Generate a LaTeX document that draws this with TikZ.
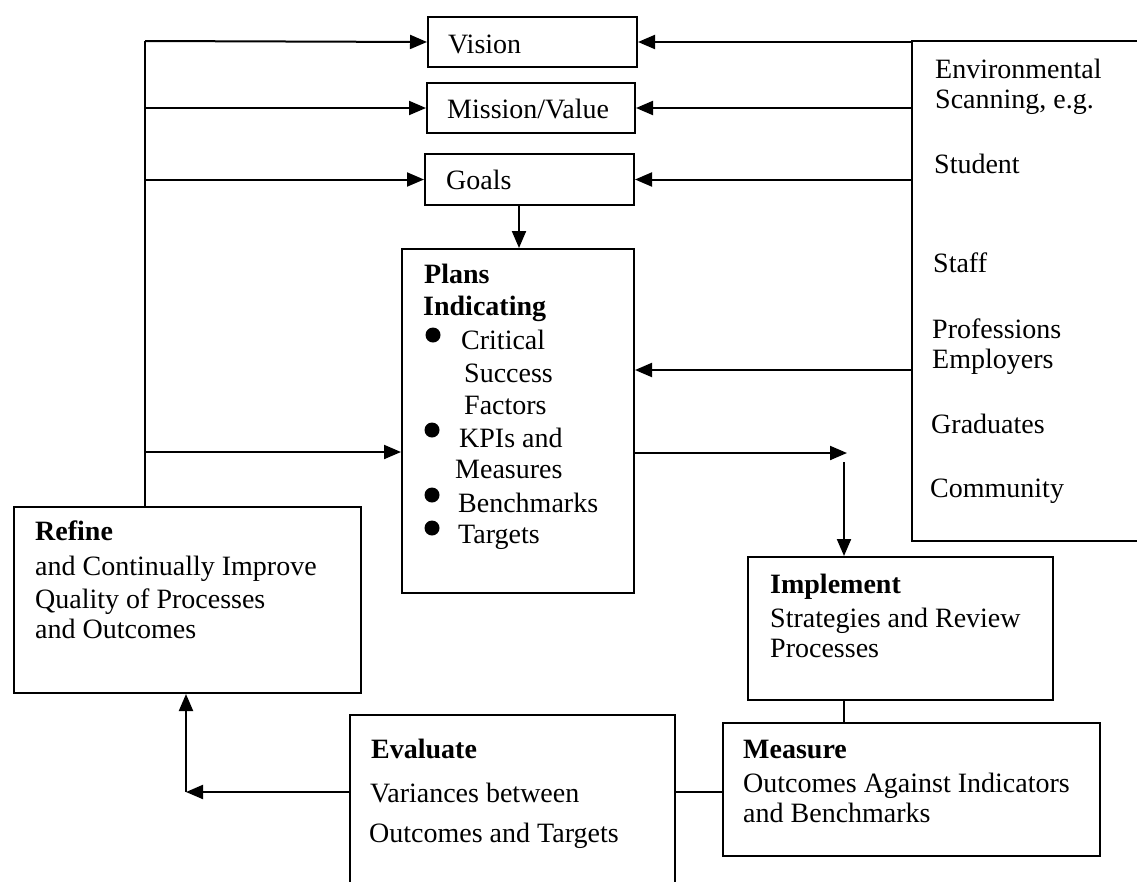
\documentclass[tikz,border=0pt]{standalone}
\usepackage{fontspec}
\setmainfont{Liberation Serif}
\usetikzlibrary{arrows.meta,calc}
\begin{document}
\begin{tikzpicture}[x=1pt,y=-1pt,
  box/.style={draw,line width=2pt,inner sep=0pt,anchor=north west},
  txt/.style={anchor=base west,inner sep=0pt,font=\fontsize{28}{30}\selectfont},
  btxt/.style={anchor=base west,inner sep=0pt,font=\fontsize{28}{30}\selectfont\bfseries},
  conn/.style={line width=2pt},
  arr/.style={conn,-{Triangle[length=17pt,width=14pt]}},
  dot/.style={circle,fill,inner sep=0pt,minimum size=15pt}]
\useasboundingbox (0,0) rectangle (1137,881);
\clip (0,0) rectangle (1137,881);
% boxes
\node[box,minimum width=209pt,minimum height=50pt] (vision) at (427,16) {};
\node[box,minimum width=208pt,minimum height=50pt] (mission) at (426,82) {};
\node[box,minimum width=209pt,minimum height=51pt] (goals) at (424,153) {};
\node[box,minimum width=232pt,minimum height=344pt] (plans) at (401,248) {};
\node[box,minimum width=260pt,minimum height=500pt] (env) at (911,40) {};
\node[box,minimum width=305pt,minimum height=143pt] (impl) at (747,556) {};
\node[box,minimum width=377pt,minimum height=133pt] (meas) at (722,722) {};
\node[box,minimum width=347pt,minimum height=186pt] (refine) at (13,506) {};
\node[box,minimum width=325pt,minimum height=200pt] (eval) at (349,714) {};
% texts
\node[txt] (tvision) at (448,53) {Vision};
\node[txt] (tmission) at (447,118) {Mission/Value};
\node[txt] (tgoals) at (446,189) {Goals};
\node[btxt] (tplans1) at (424,283) {Plans};
\node[btxt] (tplans2) at (423,315) {Indicating};
\node[dot] (b1) at (433,335) {};
\node[txt] (tcrit) at (461,349) {Critical};
\node[txt] (tsucc) at (464,382) {Success};
\node[txt] (tfact) at (464,414) {Factors};
\node[dot] (b2) at (432,430) {};
\node[txt] (tkpi) at (459,447) {KPIs and};
\node[txt] (tmeas) at (455,478) {Measures};
\node[dot] (b3) at (432,495) {};
\node[txt] (tbench) at (458,512) {Benchmarks};
\node[dot] (b4) at (432,528) {};
\node[txt] (ttarg) at (458,543) {Targets};
\node[txt] (te1) at (935,78) {Environmental};
\node[txt] (te2) at (935,108) {Scanning, e.g.};
\node[txt] (te3) at (934,173) {Student};
\node[txt] (te4) at (933,272) {Staff};
\node[txt] (te5) at (932,338) {Professions};
\node[txt] (te6) at (932,368) {Employers};
\node[txt] (te7) at (931,433) {Graduates};
\node[txt] (te8) at (930,497) {Community};
\node[btxt] (ti1) at (770,593) {Implement};
\node[txt] (ti2) at (770,627) {Strategies and Review};
\node[txt] (ti3) at (770,657) {Processes};
\node[btxt] (tm1) at (743,758) {Measure};
\node[txt] (tm2) at (743,792) {Outcomes Against Indicators};
\node[txt] (tm3) at (743,822) {and Benchmarks};
\node[btxt] (tr1) at (35,540) {Refine};
\node[txt] (tr2) at (35,575) {and Continually Improve};
\node[txt] (tr3) at (35,608) {Quality of Processes};
\node[txt] (tr4) at (35,638) {and Outcomes};
\node[btxt] (tv1) at (371,758) {Evaluate};
\node[txt] (tv2) at (370,802) {Variances between};
\node[txt] (tv3) at (369,842) {Outcomes and Targets};
% coordinates
\coordinate (bus) at (145,41);
\coordinate (busp) at (145,452);
\coordinate (ein) at (911,370);
\coordinate (gdown) at (519,204);
\coordinate (corner) at (847,453);
\coordinate (vdown) at (844,462);
\coordinate (mlink) at (700,792);
\coordinate (rjoin) at (186,792);
% connectors left bus
\draw[conn] (bus) -- (bus |- refine.north);
\draw[arr] (bus) -- (vision.west);
\draw[arr] (bus |- mission.west) -- (mission.west);
\draw[arr] (bus |- goals.west) -- (goals.west);
\draw[arr] (busp) -- (busp -| plans.west);
% from environment
\draw[arr] (env.west |- vision.east) -- (vision.east);
\draw[arr] (env.west |- mission.east) -- (mission.east);
\draw[arr] (env.west |- goals.east) -- (goals.east);
\draw[arr] (ein) -- (ein -| plans.east);
% goals to plans
\draw[arr] (gdown) -- (gdown |- plans.north);
% plans to implement
\draw[arr] (corner -| plans.east) -- (corner);
\draw[arr] (vdown) -- (vdown |- impl.north);
\draw[conn] (vdown |- impl.south) -- (vdown |- meas.north);
% measure - evaluate
\draw[conn] (mlink -| eval.east) -- (mlink -| meas.west);
% evaluate to refine
\draw[arr] (rjoin -| eval.west) -- (rjoin);
\draw[arr] (rjoin) -- (rjoin |- refine.south);
\end{tikzpicture}
\end{document}
